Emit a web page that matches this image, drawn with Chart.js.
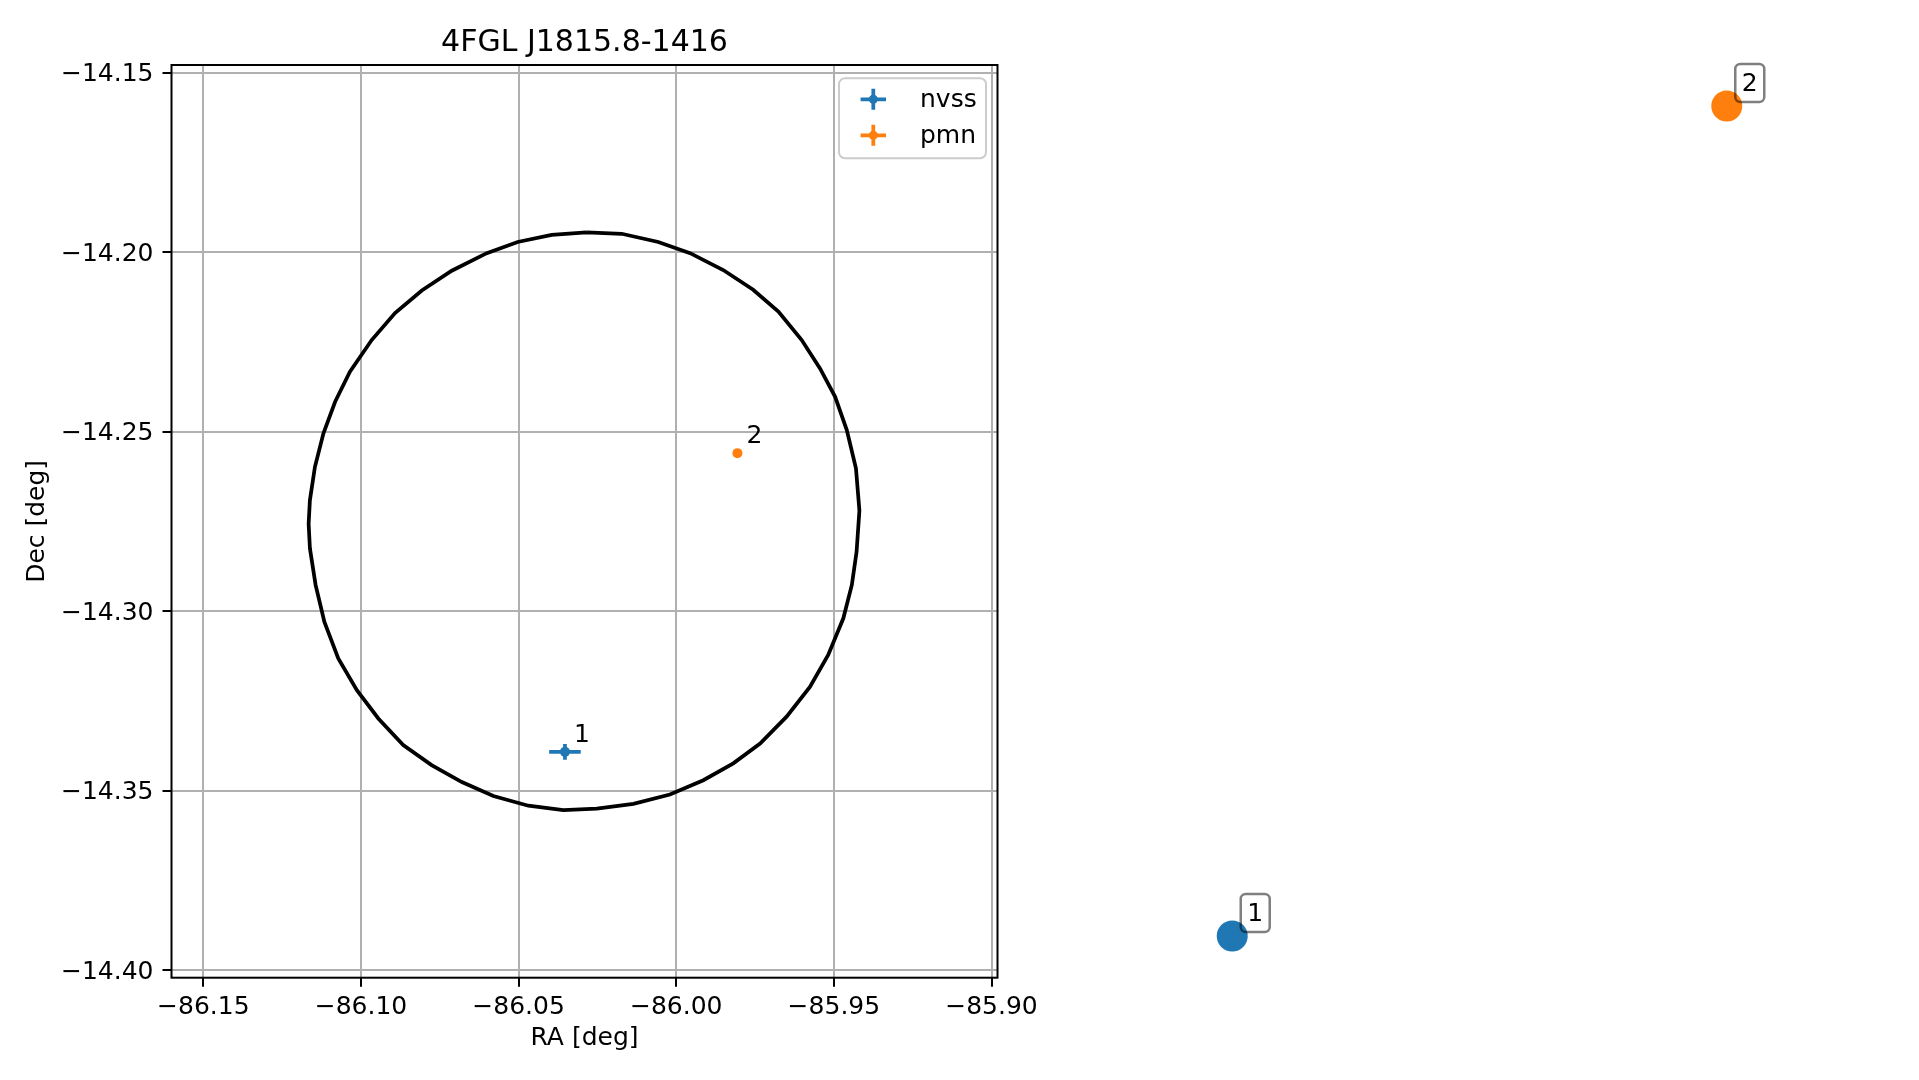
<!DOCTYPE html>
<html>
<head>
<meta charset="utf-8">
<title>4FGL J1815.8-1416</title>
<script src="https://cdn.jsdelivr.net/npm/chart.js@4.4.1/dist/chart.umd.min.js"></script>
<style>
  html, body { margin: 0; padding: 0; background: #fff; }
  #wrap { position: relative; width: 1919px; height: 1080px; }
  #mapChart { position: absolute; left: 0; top: 0; }
  #sideChart { position: absolute; left: 1169px; top: 0; }
</style>
</head>
<body>
<div id="wrap">
  <canvas id="mapChart" width="1169" height="1080"></canvas>
  <canvas id="sideChart" width="750" height="1080"></canvas>
</div>
<script>
// candidate counterparts
const sourceIds = ["1", "2"];
const catalogs = ["nvss", "pmn"];
const sourceRa = [-86.0353, -85.9806];
const sourceDec = [-14.3392, -14.2560];
const sourceRaErr = [0.0050, 0.0010];
const sourceDecErr = [0.0022, 0.0009];
const colors = ["#1f77b4", "#ff7f0e"];
const titleText = "4FGL J1815.8-1416";

// 4FGL error ellipse outline
const ellipseRa = [
  -86.0285, -86.0395, -86.0503, -86.0601, -86.0712, -86.0807, -86.0892, -86.0966,
  -86.1035, -86.1082, -86.1119, -86.1146, -86.1162, -86.1166, -86.1162, -86.1144,
  -86.1116, -86.1072, -86.1013, -86.0945, -86.0866, -86.0776, -86.0680, -86.0580,
  -86.0469, -86.0358, -86.0252, -86.0136, -86.0020, -85.9914, -85.9819, -85.9734,
  -85.9650, -85.9576, -85.9518, -85.9470, -85.9443, -85.9428, -85.9419, -85.9430,
  -85.9459, -85.9496, -85.9544, -85.9602, -85.9676, -85.9756, -85.9851, -85.9956,
  -86.0057, -86.0173, -86.0285
];
const ellipseDec = [
  -14.1945, -14.1952, -14.1972, -14.2003, -14.2052, -14.2107, -14.2170, -14.2245,
  -14.2333, -14.2417, -14.2505, -14.2598, -14.2691, -14.2757, -14.2825, -14.2927,
  -14.3030, -14.3132, -14.3220, -14.3299, -14.3373, -14.3429, -14.3476, -14.3515,
  -14.3542, -14.3554, -14.3550, -14.3537, -14.3511, -14.3471, -14.3424, -14.3369,
  -14.3294, -14.3211, -14.3122, -14.3020, -14.2927, -14.2835, -14.2720, -14.2602,
  -14.2496, -14.2403, -14.2324, -14.2245, -14.2166, -14.2105, -14.2050, -14.2003,
  -14.1972, -14.1949, -14.1945
];

const raTicks = [-86.15, -86.10, -86.05, -86.00, -85.95, -85.90];
const decTicks = [-14.40, -14.35, -14.30, -14.25, -14.20, -14.15];
const raLimits = [-86.1601, -85.8981];
const decLimits = [-14.4021, -14.1479];

const FONT = "'DejaVu Sans', sans-serif";
Chart.defaults.font.family = FONT;
Chart.defaults.color = "#000";

const fmt = v => (v < 0 ? "\u2212" : "") + Math.abs(v).toFixed(2);

function roundRect(ctx, x, y, w, h, r) {
  ctx.beginPath();
  ctx.moveTo(x + r, y);
  ctx.arcTo(x + w, y, x + w, y + h, r);
  ctx.arcTo(x + w, y + h, x, y + h, r);
  ctx.arcTo(x, y + h, x, y, r);
  ctx.arcTo(x, y, x + w, y, r);
  ctx.closePath();
}

const errorBars = {
  id: "errorBars",
  afterDatasetsDraw(chart) {
    const { ctx, scales: { x, y } } = chart;
    ctx.save();
    ctx.lineWidth = 3.75;
    sourceRa.forEach((ra, i) => {
      const px = x.getPixelForValue(ra);
      const py = y.getPixelForValue(sourceDec[i]);
      ctx.strokeStyle = colors[i];
      ctx.beginPath();
      ctx.moveTo(x.getPixelForValue(ra - sourceRaErr[i]), py);
      ctx.lineTo(x.getPixelForValue(ra + sourceRaErr[i]), py);
      ctx.moveTo(px, y.getPixelForValue(sourceDec[i] - sourceDecErr[i]));
      ctx.lineTo(px, y.getPixelForValue(sourceDec[i] + sourceDecErr[i]));
      ctx.stroke();
      ctx.fillStyle = "#000";
      ctx.font = "25px " + FONT;
      ctx.textAlign = "left";
      ctx.textBaseline = "alphabetic";
      ctx.fillText(sourceIds[i], px + 9, py - 10);
    });
    ctx.restore();
  }
};

const frameAndLegend = {
  id: "frameAndLegend",
  afterDraw(chart) {
    const { ctx, chartArea: a } = chart;
    ctx.save();
    ctx.strokeStyle = "#000";
    ctx.lineWidth = 2;
    ctx.strokeRect(a.left, a.top, a.right - a.left, a.bottom - a.top);

    // title centred over the axes
    ctx.fillStyle = "#000";
    ctx.font = "30px " + FONT;
    ctx.textAlign = "center";
    ctx.textBaseline = "middle";
    ctx.fillText(titleText, (a.left + a.right) / 2, 43);

    const w = 147, h = 80;
    const bx = a.right - 11.5 - w, by = a.top + 13.3;
    roundRect(ctx, bx, by, w, h, 6);
    ctx.fillStyle = "rgba(255,255,255,0.8)";
    ctx.fill();
    ctx.strokeStyle = "#cccccc";
    ctx.lineWidth = 2;
    ctx.stroke();

    catalogs.forEach((name, i) => {
      const mx = bx + 34.3, my = by + 21 + i * 36;
      ctx.strokeStyle = colors[i];
      ctx.fillStyle = colors[i];
      ctx.lineWidth = 3.75;
      ctx.beginPath();
      ctx.moveTo(mx - 12.7, my); ctx.lineTo(mx + 12.7, my);
      ctx.moveTo(mx, my - 10.5); ctx.lineTo(mx, my + 10.5);
      ctx.stroke();
      ctx.beginPath();
      ctx.arc(mx, my, 4.5, 0, Math.PI * 2);
      ctx.fill();
      ctx.fillStyle = "#000";
      ctx.font = "25px " + FONT;
      ctx.textAlign = "left";
      ctx.textBaseline = "middle";
      ctx.fillText(name, bx + 81, my + 1.5);
    });
    ctx.restore();
  }
};

const axisCommon = {
  type: "linear",
  bounds: "data",
  border: { display: false },
  grid: { color: "#b0b0b0", lineWidth: 2, tickColor: "#000", tickWidth: 2, tickLength: 9 },
  ticks: { font: { size: 25 }, color: "#000", callback: v => fmt(v) }
};

new Chart(document.getElementById("mapChart"), {
  type: "scatter",
  data: {
    datasets: [
      {
        label: "ellipse",
        data: ellipseRa.map((ra, i) => ({ x: ra, y: ellipseDec[i] })),
        showLine: true,
        borderColor: "#000",
        borderWidth: 3.75,
        pointRadius: 0,
        fill: false,
        tension: 0
      },
      ...catalogs.map((name, i) => ({
        label: name,
        data: [{ x: sourceRa[i], y: sourceDec[i] }],
        pointRadius: 5,
        pointBackgroundColor: colors[i],
        pointBorderWidth: 0
      }))
    ]
  },
  options: {
    responsive: false,
    animation: false,
    layout: { padding: { left: 0, right: 171.5, top: 65, bottom: 0 } },
    plugins: {
      legend: { display: false },
      tooltip: { enabled: false },
      title: { display: false }
    },
    scales: {
      x: {
        ...axisCommon,
        min: raLimits[0],
        max: raLimits[1],
        ticks: { ...axisCommon.ticks, padding: 6, maxRotation: 0 },
        title: { display: true, text: "RA [deg]", font: { size: 25 }, color: "#000", padding: { top: 0, bottom: 27 } },
        afterBuildTicks: s => { s.ticks = raTicks.map(v => ({ value: v })); },
        afterFit: s => { s.height = 102.3; }
      },
      y: {
        ...axisCommon,
        min: decLimits[0],
        max: decLimits[1],
        ticks: { ...axisCommon.ticks, padding: 9, labelOffset: 2 },
        title: { display: true, text: "Dec [deg]", font: { size: 25 }, color: "#000", padding: { top: 22, bottom: 0 } },
        afterBuildTicks: s => { s.ticks = decTicks.map(v => ({ value: v })); },
        afterFit: s => { s.width = 171.5; }
      }
    }
  },
  plugins: [errorBars, frameAndLegend]
});

// right panel: same sources, large markers with boxed ids
const raSpan = Math.max(...sourceRa) - Math.min(...sourceRa);
const decSpan = Math.max(...sourceDec) - Math.min(...sourceDec);

const boxedIds = {
  id: "boxedIds",
  afterDatasetsDraw(chart) {
    const { ctx, scales: { x, y } } = chart;
    ctx.save();
    sourceRa.forEach((ra, i) => {
      const cx = x.getPixelForValue(ra) + 23;
      const cy = y.getPixelForValue(sourceDec[i]) - 23;
      roundRect(ctx, cx - 14.5, cy - 19, 29, 38, 5);
      ctx.strokeStyle = "rgba(0,0,0,0.5)";
      ctx.lineWidth = 2.5;
      ctx.stroke();
      ctx.fillStyle = "#000";
      ctx.font = "25px " + FONT;
      ctx.textAlign = "center";
      ctx.textBaseline = "middle";
      ctx.fillText(sourceIds[i], cx, cy + 1);
    });
    ctx.restore();
  }
};

new Chart(document.getElementById("sideChart"), {
  type: "scatter",
  data: {
    datasets: [{
      data: sourceRa.map((ra, i) => ({ x: ra, y: sourceDec[i] })),
      pointRadius: 15.5,
      pointBackgroundColor: colors,
      pointBorderWidth: 0
    }]
  },
  options: {
    responsive: false,
    animation: false,
    layout: { padding: { left: 38.5, right: 167.5, top: 64.5, bottom: 102.5 } },
    plugins: { legend: { display: false }, tooltip: { enabled: false } },
    scales: {
      x: { type: "linear", display: false, min: Math.min(...sourceRa) - 0.05 * raSpan, max: Math.max(...sourceRa) + 0.05 * raSpan },
      y: { type: "linear", display: false, min: Math.min(...sourceDec) - 0.05 * decSpan, max: Math.max(...sourceDec) + 0.05 * decSpan }
    }
  },
  plugins: [boxedIds]
});
</script>
</body>
</html>
